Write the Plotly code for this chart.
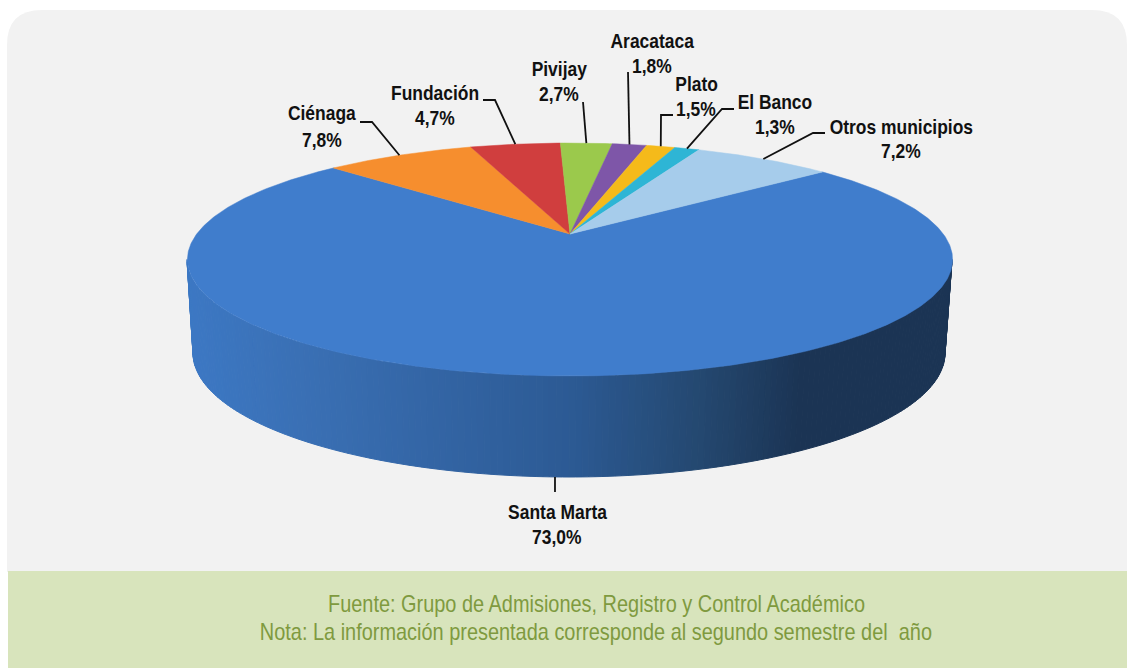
import numpy as np
import plotly.graph_objects as go

# --- data ---
names = ["Santa Marta", "Ciénaga", "Fundación", "Pivijay", "Aracataca", "Plato", "El Banco", "Otros municipios"]
values = [73.0, 7.8, 4.7, 2.7, 1.8, 1.5, 1.3, 7.2]
pct_labels = ["73,0%", "7,8%", "4,7%", "2,7%", "1,8%", "1,5%", "1,3%", "7,2%"]
colors = ["#407DCC", "#F68E2E", "#D03E3E", "#9BC94C", "#7E56A8", "#F5BA1A", "#2EB5D5", "#A6CCEB"]
footer_lines = ["Fuente: Grupo de Admisiones, Registro y Control Académico",
                "Nota: La información presentada corresponde al segundo semestre del  año"]

# --- layout / styling ---
W, H = 1127, 668
cx, cy = 570, 234          # apex of the pie on the page
A, B, k = 110.9, 373.3, 0.219   # perspective projection of the top disc
start_deg = 50.4           # clockwise from 12 o'clock
bot_cx, bot_cy, bot_rx, bot_ry = 569, 353, 376, 124
top_cx, top_cy, top_rx, top_ry = 569.5, 259.5, 382.5, 116.5
wall_x = [187, 300, 570, 700, 800, 952]
wall_c = [(0x3C, 0x78, 0xC4), (0x3A, 0x70, 0xB5), (0x2C, 0x5A, 0x94), (0x24, 0x48, 0x70), (0x1B, 0x34, 0x54), (0x1B, 0x34, 0x54)]
# leader elbows and label anchors, same order as names
elbows = [[], [(372, 122), (360, 122)], [(495, 100), (483, 100)], [(583, 102)], [(628, 72)],
          [(661, 115), (673, 115)], [(722, 109), (734, 109)], [(813, 133), (825, 133)]]
name_pos = [(557, 511), (322, 112), (435, 92), (559, 68), (652, 40), (696, 83), (775, 101), (901, 126)]
pct_pos = [(557, 536), (322, 139), (435, 117), (559, 93), (652, 65), (696, 108), (775, 126), (901, 150)]
FONT = "Liberation Sans"
NARROW = 0.83   # horizontal scale of the text, the reference uses a narrow face


def proj(theta_deg):
    """Clockwise angle from 12 o'clock to the page position on the top disc."""
    t = np.radians(theta_deg)
    xd, yd = np.sin(t), np.cos(t)
    d = 1 + k * yd
    return cx + B * xd / d, cy - A * yd / d


fig = go.Figure()


def poly(xs, ys, color, lw=0.0):
    fig.add_trace(go.Scatter(x=list(xs), y=list(ys), mode="lines", fill="toself", fillcolor=color,
                             line=dict(color=color, width=lw), hoverinfo="skip", showlegend=False))


def wall_color(x):
    r = [np.interp(x, wall_x, [c[i] for c in wall_c]) for i in range(3)]
    return "rgb(%d,%d,%d)" % tuple(int(round(v)) for v in r)


# side wall, front half, one shaded band per step of the rim
ts = np.radians(np.linspace(180, 360, 181))
for a, b in zip(ts[:-1], ts[1:]):
    xt = top_cx + top_rx * np.cos([a, b])
    yt = top_cy - top_ry * np.sin([a, b])
    xb = bot_cx + bot_rx * np.cos([a, b])
    yb = bot_cy - bot_ry * np.sin([a, b])
    xs = [xt[0], xt[1], xb[1], xb[0], xt[0]]
    ys = [yt[0], yt[1], yb[1], yb[0], yt[0]]
    poly(xs, ys, wall_color(np.mean(xs)), 1)

# top surface slices, from the values
edges = start_deg + 3.6 * np.concatenate([[0], np.cumsum(values)])
for i, c in enumerate(colors):
    th = np.linspace(edges[i], edges[i + 1], max(3, int(abs(edges[i + 1] - edges[i]) * 2)))
    px, py = proj(th)
    poly(np.r_[cx, px, cx], np.r_[cy, py, cy], c, 0.5)

# leader lines
annotations = []
mids = (edges[:-1] + edges[1:]) / 2
for i, nm in enumerate(names):
    if i == 0:
        x0, _ = proj(mids[i])
        t = np.arccos((x0 - bot_cx) / bot_rx)
        pts = [(x0, bot_cy + bot_ry * np.sin(t)), (x0, 492)]
    else:
        pts = [tuple(proj(mids[i]))] + elbows[i]
    fig.add_trace(go.Scatter(x=[p[0] for p in pts], y=[p[1] for p in pts], mode="lines",
                             line=dict(color="#111111", width=1.8), hoverinfo="skip", showlegend=False))
    annotations.append(dict(x=name_pos[i][0], y=name_pos[i][1], text=nm, showarrow=False, xref="x", yref="y",
                            font=dict(family=FONT, size=21, color="#111111", weight="bold")))
    annotations.append(dict(x=pct_pos[i][0], y=pct_pos[i][1], text=pct_labels[i], showarrow=False, xref="x", yref="y",
                            font=dict(family=FONT, size=21, color="#111111", weight="bold")))

for (txt, y, x) in zip(footer_lines, [603, 631], [596, 596]):
    annotations.append(dict(x=x, y=y, text=txt, showarrow=False, xref="x", yref="y",
                            font=dict(family=FONT, size=24, color="#7F9A3F")))

r = 35
panel = (f"M 7 {10 + r} Q 7 10 {7 + r} 10 L {W - r} 10 Q {W} 10 {W} {10 + r} L {W} 572 L 7 572 Z")
shapes = [dict(type="path", path=panel, xref="x", yref="y", fillcolor="#F2F2F2", line=dict(width=0), layer="below"),
          dict(type="rect", x0=8, x1=W, y0=571, y1=H, xref="x", yref="y", fillcolor="#D8E4BC",
               line=dict(width=0), layer="below")]

fig.update_layout(width=W, height=H, margin=dict(l=0, r=0, t=0, b=0), paper_bgcolor="white", plot_bgcolor="white",
                  showlegend=False, shapes=shapes, annotations=annotations,
                  xaxis=dict(range=[0, W], visible=False, fixedrange=True),
                  yaxis=dict(range=[H, 0], visible=False, fixedrange=True))
post = """
document.body.style.margin='0';document.body.style.overflow='hidden';
document.querySelectorAll('.annotation-text').forEach(function(t){
  t.setAttribute('lengthAdjust','spacingAndGlyphs');
  t.setAttribute('textLength', t.getComputedTextLength()*%s);
});
""" % NARROW
fig.write_html("out.html", config=dict(displayModeBar=False), post_script=post)
